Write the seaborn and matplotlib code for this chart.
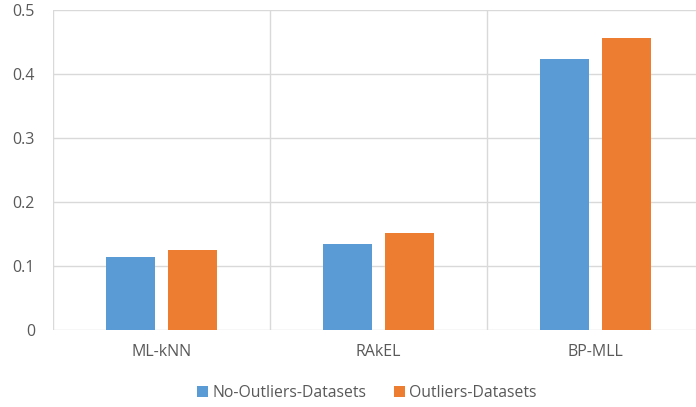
import matplotlib
matplotlib.use("Agg")
import matplotlib.pyplot as plt
import seaborn as sns
import pandas as pd
from matplotlib.patches import Patch

categories = ["ML-kNN", "RAkEL", "BP-MLL"]
no_outliers = [0.114, 0.134, 0.422]
outliers = [0.125, 0.151, 0.456]
series_names = ["No-Outliers-Datasets", "Outliers-Datasets"]
y_ticks = [0, 0.1, 0.2, 0.3, 0.4, 0.5]
y_tick_labels = ["0", "0.1", "0.2", "0.3", "0.4", "0.5"]

df = pd.DataFrame({
    "cat": categories * 2,
    "val": no_outliers + outliers,
    "series": [series_names[0]] * 3 + [series_names[1]] * 3,
})

sns.set_theme(style="white")
plt.rcParams["font.family"] = ["Open Sans", "DejaVu Sans"]

colors = ["#5B9BD5", "#ED7D31"]
fig = plt.figure(figsize=(6.96, 4.07), dpi=100)
ax = fig.add_axes([53/696, (407-330)/407, 651/696, 320.5/407])
sns.barplot(data=df, x="cat", y="val", hue="series", palette=colors,
            width=0.572, gap=0.21, ax=ax, legend=False, saturation=1,
            edgecolor="none")

ax.set_xlim(-0.5, 2.5)
ax.set_ylim(0, 0.5)
ax.set_yticks(y_ticks)
ax.set_yticklabels(y_tick_labels)
ax.set_xticks(range(len(categories)))
ax.set_xticklabels(categories)
ax.set_xticks([-0.5, 0.5, 1.5, 2.5], minor=True)
ax.grid(axis="y", which="major", color="#D9D9D9", linewidth=1)
ax.grid(axis="x", which="minor", color="#D9D9D9", linewidth=1)
ax.grid(axis="x", which="major", visible=False)
ax.set_axisbelow(True)
for s in ax.spines.values():
    s.set_visible(False)
ax.tick_params(axis="both", which="both", length=0, labelsize=11.5, colors="#595959")
ax.tick_params(axis="y", pad=13)
ax.tick_params(axis="x", pad=10)
ax.set_xlabel("")
ax.set_ylabel("")

handles = [Patch(facecolor=c, edgecolor="none") for c in colors]
fig.legend(handles, series_names, loc="center", bbox_to_anchor=(367/696, 1-393/407),
           ncol=2, frameon=False, fontsize=11.3, handlelength=0.7, handleheight=0.7,
           handletextpad=0.3, columnspacing=1.7, labelcolor="#595959")

fig.savefig("out.png", dpi=100)
